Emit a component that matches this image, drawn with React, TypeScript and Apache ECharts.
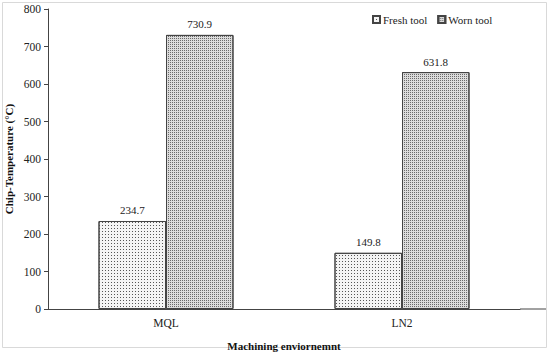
import React, { useEffect, useRef } from "react";
import * as echarts from "echarts";

const categories = ["MQL", "LN2"];
const freshTool = [234.7, 149.8];
const wornTool = [730.9, 631.8];
const yTicks = { min: 0, max: 800, interval: 100 };

const FONT = "'Liberation Serif', 'Times New Roman', serif";

export default function App() {
  const ref = useRef<HTMLDivElement>(null);
  useEffect(() => {
    if (!ref.current) return;
    const chart = echarts.init(ref.current, undefined, { renderer: "svg" });
    chart.setOption({
      animation: false,
      backgroundColor: "#fff",
      textStyle: { fontFamily: FONT },
      grid: { left: 48, right: 30, top: 9, bottom: 43, containLabel: false, outerBoundsMode: "none" },
      legend: {
        left: 367,
        top: 9,
        icon: "rect",
        itemWidth: 7,
        itemHeight: 7,
        itemGap: 10,
        textStyle: { fontFamily: FONT, fontSize: 11, color: "#222", padding: [0, 0, 0, -2] },
        data: ["Fresh tool", "Worn tool"],
      },
      graphic: [
        {
          type: "rect",
          shape: { x: 2.5, y: 2.5, width: 544, height: 345 },
          style: { fill: "none", stroke: "#d9d9d9", lineWidth: 1 },
          silent: true,
        },
        {
          type: "line",
          shape: { x1: 520, y1: 309, x2: 546, y2: 309 },
          style: { stroke: "#444", lineWidth: 1 },
          silent: true,
        },
      ],
      xAxis: {
        type: "category",
        data: categories,
        name: "Machining enviornemnt",
        nameLocation: "middle",
        nameGap: 31,
        nameMoveOverlap: false,
        nameTextStyle: { fontFamily: FONT, fontSize: 11, fontWeight: "bold", color: "#111" },
        axisLine: { lineStyle: { color: "#444", width: 1 } },
        axisTick: { show: false },
        axisLabel: { fontFamily: FONT, fontSize: 11.5, color: "#222", margin: 8 },
      },
      yAxis: {
        type: "value",
        min: yTicks.min,
        max: yTicks.max,
        interval: yTicks.interval,
        name: "Chip-Temperature (°C)",
        nameLocation: "middle",
        nameGap: 34,
        nameMoveOverlap: false,
        nameTextStyle: { fontFamily: FONT, fontSize: 11, fontWeight: "bold", color: "#111" },
        axisLine: { show: true, lineStyle: { color: "#444", width: 1 } },
        axisTick: { show: true, length: 4, lineStyle: { color: "#444" } },
        axisLabel: { fontFamily: FONT, fontSize: 11.5, color: "#222", margin: 7 },
        splitLine: { show: false },
      },
      series: [
        {
          name: "Fresh tool",
          type: "bar",
          data: freshTool,
          barWidth: "28.6%",
          barGap: "0%",
          itemStyle: {
            color: "#f4f4f4",
            borderColor: "#444",
            borderWidth: 1,
            decal: {
              symbol: "rect",
              symbolSize: 1,
              color: "#555",
              dashArrayX: [1, 2],
              dashArrayY: [1, 2],
              rotation: 0,
            },
          },
          label: {
            show: true,
            position: "top",
            distance: 5,
            fontFamily: FONT,
            fontSize: 11,
            color: "#222",
            formatter: (p: any) => p.value.toFixed(1),
          },
        },
        {
          name: "Worn tool",
          type: "bar",
          data: wornTool,
          barWidth: "28.6%",
          barGap: "0%",
          itemStyle: {
            color: "#dcdcdc",
            borderColor: "#444",
            borderWidth: 1,
            decal: {
              symbol: "rect",
              symbolSize: 1,
              color: "#6a6a6a",
              dashArrayX: [1, 1],
              dashArrayY: [1, 1],
              rotation: 0,
            },
          },
          label: {
            show: true,
            position: "top",
            distance: 5,
            fontFamily: FONT,
            fontSize: 11,
            color: "#222",
            formatter: (p: any) => p.value.toFixed(1),
          },
        },
      ],
    });
    return () => chart.dispose();
  }, []);
  return <div ref={ref} style={{ width: 550, height: 352, position: "absolute", left: 0, top: 0 }} />;
}
